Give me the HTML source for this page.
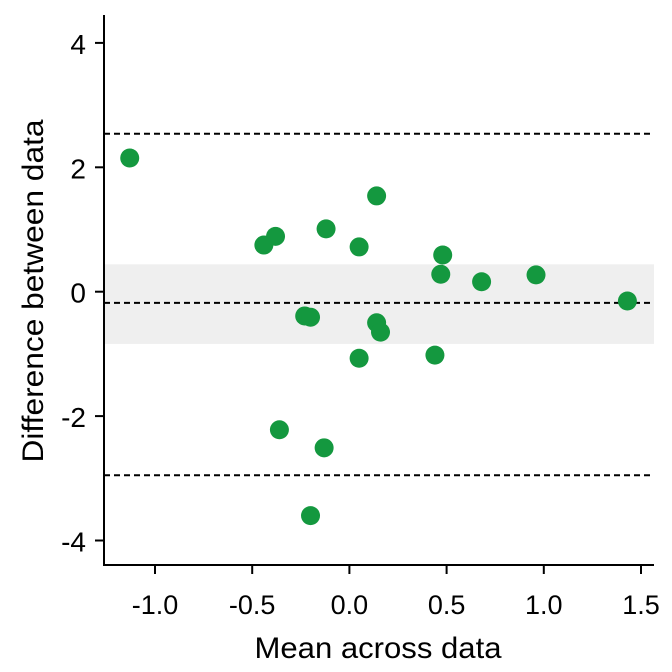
<!DOCTYPE html>
<html><head><meta charset="utf-8"><style>body{margin:0;background:#fff}svg{display:block}text{font-family:"Liberation Sans",Arial,sans-serif;fill:#000}</style></head>
<body>
<svg id="chart" width="672" height="672"></svg>
<script>
const xMeans=[-1.13,0.14,-0.44,-0.38,-0.12,0.05,0.48,0.47,0.68,0.96,1.43,-0.23,-0.20,0.14,0.16,0.05,0.44,-0.36,-0.13,-0.20];
const yDiffs=[2.15,1.54,0.75,0.89,1.01,0.72,0.59,0.28,0.16,0.27,-0.15,-0.39,-0.41,-0.50,-0.65,-1.07,-1.02,-2.22,-2.51,-3.60];
const xTicks=[-1.0,-0.5,0.0,0.5,1.0,1.5];
const xTickLabels=["-1.0","-0.5","0.0","0.5","1.0","1.5"];
const yTicks=[4,2,0,-2,-4];
const yTickLabels=["4","2","0","-2","-4"];
const meanDiff=-0.18, upperLoA=2.54, lowerLoA=-2.95;
const ciBand=[-0.84,0.44];
const NS="http://www.w3.org/2000/svg";
const svg=document.getElementById('chart');
const X=v=>349.4+v*194.4, Y=v=>291.7-v*62.2;
function mk(t,a){const e=document.createElementNS(NS,t);for(const k in a)e.setAttribute(k,a[k]);svg.appendChild(e);return e;}
let e;
e=mk('rect',{x:104,y:Y(ciBand[1]),width:550,height:Y(ciBand[0])-Y(ciBand[1]),fill:'#efefef'});


[[upperLoA,'upper-limit-line'],[meanDiff,'mean-difference-line'],[lowerLoA,'lower-limit-line']].forEach(([v,n])=>{
 const l=mk('line',{x1:104,x2:654,y1:Y(v),y2:Y(v),stroke:'#000','stroke-width':2,'stroke-dasharray':'6,4'});
 
 
});
xMeans.forEach((xv,i)=>{
 const c=mk('circle',{cx:X(xv),cy:Y(yDiffs[i]),r:9.5,fill:'#14983f'});
 
 
});
e=mk('path',{d:'M104,15V565H654',fill:'none',stroke:'#000','stroke-width':2});


xTicks.forEach((v,i)=>{
 const t=mk('line',{x1:X(v),x2:X(v),y1:565,y2:574,stroke:'#000','stroke-width':2});
 
 
 const s=mk('text',{x:X(v),y:614,'text-anchor':'middle','font-size':27});
 s.textContent=xTickLabels[i];
 
 
});
yTicks.forEach((v,i)=>{
 const t=mk('line',{x1:95,x2:104,y1:Y(v),y2:Y(v),stroke:'#000','stroke-width':2});
 
 
 const s=mk('text',{x:86,y:Y(v)+11,'text-anchor':'end','font-size':28});
 s.textContent=yTickLabels[i];
 
 
});
e=mk('text',{x:378,y:658,'text-anchor':'middle','font-size':30,textLength:247,lengthAdjust:'spacingAndGlyphs'});
e.textContent='Mean across data';


e=mk('text',{x:0,y:0,'text-anchor':'middle','font-size':30,textLength:343,lengthAdjust:'spacingAndGlyphs',transform:'translate(43,291) rotate(-90)'});
e.textContent='Difference between data';


</script>
</body></html>
